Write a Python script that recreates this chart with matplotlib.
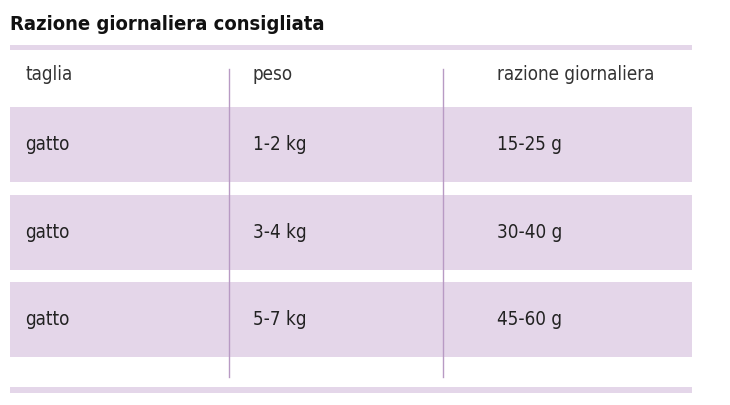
import matplotlib
matplotlib.use("Agg")
import matplotlib.pyplot as plt
from matplotlib.patches import Rectangle

title = "Razione giornaliera consigliata"
headers = ["taglia", "peso", "razione giornaliera"]
taglia = ["gatto", "gatto", "gatto"]
peso = ["1-2 kg", "3-4 kg", "5-7 kg"]
razione = ["15-25 g", "30-40 g", "45-60 g"]

band = "#e4d6e9"
line = "#b89ac4"
fam = ["DejaVu Sans"]

fig = plt.figure(figsize=(7.30, 4.06), dpi=100)
ax = fig.add_axes([0, 0, 1, 1])
ax.set_xlim(0, 730); ax.set_ylim(406, 0); ax.axis("off")

ax.text(10, 24, title, fontsize=14.5, fontweight="bold", family=fam, fontstretch="condensed",
        va="center", ha="left", color="#111111")
ax.add_patch(Rectangle((10, 46), 682, 5, color=band, lw=0))
ax.add_patch(Rectangle((10, 388), 682, 6, color=band, lw=0))

colx = [25, 253, 497]
for x, h in zip(colx, headers):
    ax.text(x, 74, h, fontsize=13.5, family=fam, fontstretch="condensed", va="center", color="#333333")

row_tops = [108, 196, 283]
for i, top in enumerate(row_tops):
    ax.add_patch(Rectangle((10, top), 682, 75, color=band, lw=0))
    yc = top + 37
    for x, v in zip(colx, [taglia[i], peso[i], razione[i]]):
        ax.text(x, yc, v, fontsize=13.5, family=fam, fontstretch="condensed", va="center", color="#222222")

for x in [229, 443]:
    ax.plot([x, x], [70, 378], color=line, lw=1)

fig.savefig("out.png", dpi=100)
